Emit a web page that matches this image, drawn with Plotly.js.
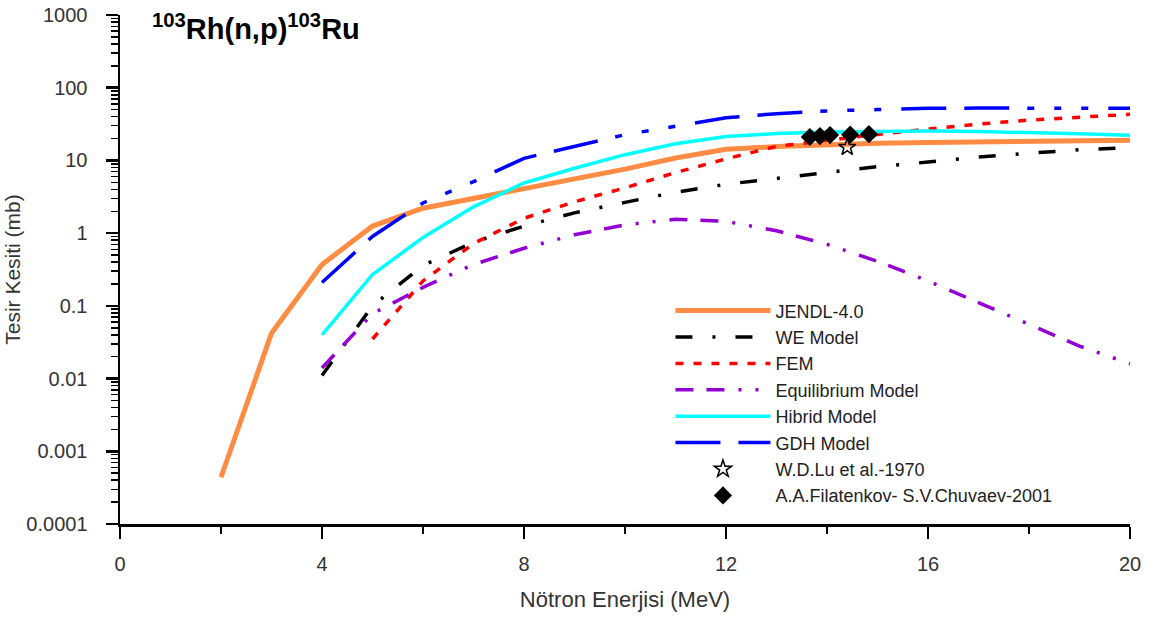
<!DOCTYPE html>
<html>
<head>
<meta charset="utf-8">
<script src="https://cdn.plot.ly/plotly-3.0.1.min.js"></script>
<style>html,body{margin:0;padding:0;background:#fff;}#chart{width:1152px;height:619px;}</style>
</head>
<body>
<div id="chart"></div>
<script>
// Energies (MeV)
const energyJendl = [2,3,4,5,6,7,8,9,10,11,12,13,14,15,16,17,18,19,20];
const energyFrom4 = [4,5,6,7,8,9,10,11,12,13,14,15,16,17,18,19,20];
const energyFrom5 = [5,6,7,8,9,10,11,12,13,14,15,16,17,18,19,20];

// Cross sections (mb)
const jendl = [0.00044,0.042,0.37,1.25,2.2,3.0,4.0,5.4,7.6,10.8,14.2,15.5,16.6,17.2,17.6,18.0,18.4,18.8,19.0];
const weModel = [0.011,0.1,0.36,0.75,1.25,1.9,2.65,3.65,4.7,5.7,6.9,8.2,9.5,11.1,12.6,14.0,15.0];
const fem = [0.035,0.22,0.72,1.6,2.7,4.2,6.8,10.5,15.6,19.0,22.8,27.0,31.6,35.9,39.8,43.0];
const equilibrium = [0.014,0.078,0.18,0.37,0.62,0.95,1.3,1.55,1.45,1.08,0.7,0.41,0.22,0.11,0.055,0.028,0.016];
const hibrid = [0.04,0.27,0.87,2.3,4.9,7.8,12.0,17.0,21.4,23.4,24.6,25.2,25.3,25.0,24.3,23.2,22.2];
const gdh = [0.21,0.9,2.6,5.1,10.7,15.7,22.6,29.5,38.5,44.0,48.0,50.0,52.0,52.5,52.5,52.5,52.0];

// Experimental data
const luEnergy = [14.4];
const luXs = [15.2];
const filEnergy = [13.66,13.86,14.06,14.46,14.83];
const filXs = [21.0,21.6,22.3,22.6,23.0];

const seriesNames = ['JENDL-4.0','WE Model','FEM','Equilibrium Model','Hibrid Model','GDH Model','W.D.Lu et al.-1970','A.A.Filatenkov- S.V.Chuvaev-2001'];

const yTickVals = [0.0001,0.001,0.01,0.1,1,10,100,1000];
const yTickText = ['0.0001','0.001','0.01','0.1','1','10','100','1000'];

const traces = [
  {x: energyJendl, y: jendl, name: seriesNames[0], mode:'lines', line:{color:'#FF8C42', width:5}},
  {x: energyFrom4, y: weModel, name: seriesNames[1], mode:'lines', line:{color:'#000000', width:3.5, dash:'17px,20px,3px,20px'}},
  {x: energyFrom5, y: fem, name: seriesNames[2], mode:'lines', line:{color:'#FF0000', width:3.5, dash:'8px,10px'}},
  {x: energyFrom4, y: equilibrium, name: seriesNames[3], mode:'lines', line:{color:'#9400D3', width:3.5, dash:'18px,13px,18px,14px,3px,14px,3px,14px'}},
  {x: energyFrom4, y: hibrid, name: seriesNames[4], mode:'lines', line:{color:'#00FFFF', width:3.5}},
  {x: energyFrom4, y: gdh, name: seriesNames[5], mode:'lines', line:{color:'#0000FF', width:3.5, dash:'45px,18px,45px,18px,7px,20px,7px,20px,7px,20px'}},
  {x: luEnergy, y: luXs, name: seriesNames[6], mode:'markers', marker:{symbol:'star-open', size:13, color:'#000000', line:{width:1.5, color:'#000000'}}},
  {x: filEnergy, y: filXs, name: seriesNames[7], mode:'markers', marker:{symbol:'diamond', size:14, color:'#000000'}}
];

const FONT = 'Liberation Sans, Arial, sans-serif';

const layout = {
  width:1152, height:619,
  paper_bgcolor:'#ffffff', plot_bgcolor:'#ffffff',
  margin:{l:120, r:22, t:15, b:95},
  showlegend:true,
  legend:{x:0.545, y:0.455, xanchor:'left', yanchor:'top', bgcolor:'rgba(0,0,0,0)',
    font:{family:FONT, size:18, color:'#222222'}, itemwidth:95},
  xaxis:{range:[0,20], dtick:4, tick0:0, showline:true, linewidth:2.5, linecolor:'#000', showgrid:false, zeroline:false,
    ticks:'outside', ticklen:12, tickwidth:2.5, tickcolor:'#000', tickfont:{family:FONT, size:20, color:'#333333'},
    ticklabelstandoff:8,
    minor:{dtick:2, ticks:'outside', ticklen:7, tickwidth:2.5, tickcolor:'#000', showgrid:false},
    title:{text:'Nötron Enerjisi (MeV)', font:{family:FONT, size:22, color:'#333333'}, standoff:18}},
  yaxis:{type:'log', range:[-4,3], showline:true, linewidth:2.5, linecolor:'#000', showgrid:false, zeroline:false,
    ticks:'outside', ticklen:12, tickwidth:2.5, tickcolor:'#000', tickfont:{family:FONT, size:20, color:'#333333'},
    tickmode:'array', tickvals:yTickVals, ticktext:yTickText,
    ticklabelstandoff:14,
    minor:{dtick:'D1', ticks:'outside', ticklen:7, tickwidth:1.5, tickcolor:'#000', showgrid:false},
    title:{text:'Tesir Kesiti (mb)', font:{family:FONT, size:21, color:'#333333'}, standoff:0}},
  annotations:[{
    xref:'paper', yref:'paper', x:0.03, y:1.015, xanchor:'left', yanchor:'top', showarrow:false,
    text:'<b><sup>103</sup>Rh(n,p)<sup>103</sup>Ru</b>',
    font:{family:FONT, size:29, color:'#000000'}
  }]
};

Plotly.newPlot('chart', traces, layout, {displayModeBar:false, staticPlot:true});
</script>
</body>
</html>
